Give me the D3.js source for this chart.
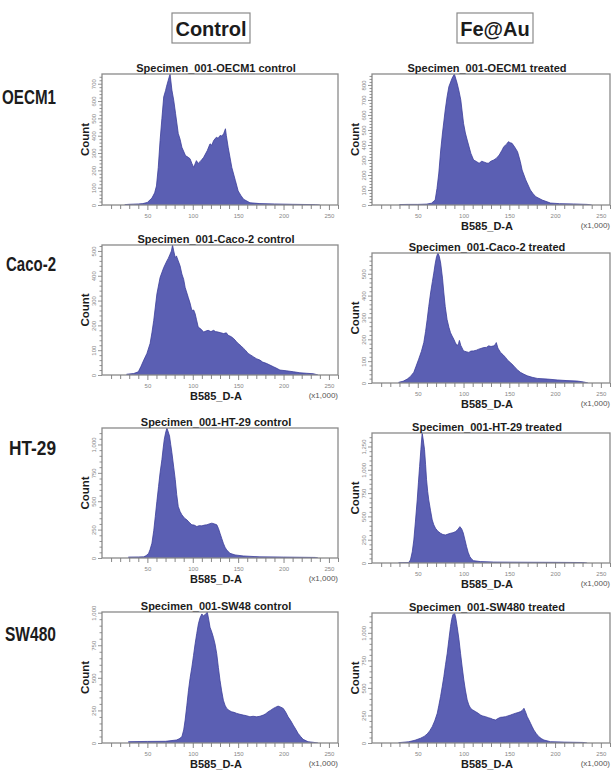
<!DOCTYPE html>
<html>
<head>
<meta charset="utf-8">
<script src="https://cdn.jsdelivr.net/npm/d3@7/dist/d3.min.js"></script>
<style>
  html, body { margin: 0; padding: 0; background: #ffffff; }
  svg { display: block; font-family: "Liberation Sans", Arial, Helvetica, sans-serif; }
</style>
</head>
<body>
<svg id="chart" width="611" height="773"></svg>
<script>
// ---------------- DATA ----------------
const columnHeaders = ["Control", "Fe@Au"];
const rowLabels = ["OECM1", "Caco-2", "HT-29", "SW480"];
const panelTitles = [
  "Specimen_001-OECM1 control", "Specimen_001-OECM1 treated",
  "Specimen_001-Caco-2 control", "Specimen_001-Caco-2 treated",
  "Specimen_001-HT-29 control", "Specimen_001-HT-29 treated",
  "Specimen_001-SW48 control", "Specimen_001-SW480 treated"
];
const xTickValues = [50, 100, 150, 200, 250];
const xDomainMax = 260;
const yMaxValues = [756, 873, 524, 595, 1145, 1395, 1005, 1180];
const yTickSteps = [100, 100, 100, 100, 250, 250, 250, 250];
const xAxisLabel = "B585_D-A";
const xAxisUnit = "(x1,000)";
const yAxisLabel = "Count";

// histogram counts: [B585_D-A (x1,000), Count]
const oecm1Control = [[25,2],[30,4],[35,5],[40,6],[45,8],[50,15],[55,40],[58,70],[60,110],[62,217],[64,372],[66,500],[68,624],[70,660],[71,682],[73,720],[75,756],[77,663],[79,605],[81,529],[84,413],[86,380],[88,333],[92,285],[95,275],[97,267],[99,240],[101,217],[104,256],[106,240],[108,250],[110,262],[112,275],[116,314],[119,353],[121,345],[123,372],[126,391],[128,385],[130,401],[132,398],[134,411],[136,440],[137,400],[139,333],[143,217],[147,140],[150,81],[153,55],[156,33],[163,13],[174,8],[190,6],[210,4],[235,2],[240,0]];
const oecm1Treated = [[30,3],[40,4],[50,4],[60,6],[65,12],[69,33],[71,110],[73,213],[75,360],[77,480],[80,633],[82,720],[84,789],[87.5,845],[90,873],[93,811],[95,760],[97,700],[100,544],[102,480],[104,433],[108,344],[111,300],[114,290],[117,278],[120,292],[122,287],[125,280],[127,278],[130,292],[133,300],[136,312],[139,333],[142,365],[144,389],[147,405],[149,422],[151,415],[153,411],[156,385],[159,355],[162,290],[164,233],[168,167],[173,100],[176,75],[179,55],[186,33],[195,13],[205,9],[220,7],[235,4],[240,0]];
const caco2Control = [[27,3],[35,6],[40,13],[43,35],[46,60],[49.5,87],[53,127],[55,170],[57,220],[60.5,327],[64,393],[68,433],[71.5,460],[73,470],[75,487],[76.5,500],[77.7,524],[79,500],[80.7,473],[82,480],[84,460],[86,440],[88,407],[90,385],[91.6,353],[95,313],[97,290],[99,260],[101,262],[102.6,247],[104,225],[106,193],[109,185],[112,173],[115,178],[117,180],[120,175],[123,180],[125,175],[128,173],[131,170],[134,167],[137,170],[139,160],[142,155],[145,147],[148,135],[150,127],[153,118],[156,107],[158,100],[161,87],[164,80],[167,73],[170,66],[174,60],[177,52],[181,47],[185,40],[189,33],[193,26],[196,20],[203,17],[211,13],[218,9],[225,7],[233,5],[238,0]];
const caco2Treated = [[29,3],[34,8],[38.5,18],[42,30],[45.7,49],[48,75],[51,109],[54,145],[56.6,185],[58.5,235],[60.3,291],[62,350],[64,412],[66,465],[67.5,503],[69,545],[70.5,578],[72,595],[73.5,580],[75,549],[77,480],[78.5,412],[80,350],[82,291],[84,255],[85.8,230],[87.5,215],[89.4,200],[91,185],[93,170],[94.5,180],[95.5,195],[97,172],[100,147],[103,143],[105.8,140],[108,146],[111,147],[114,150],[116.7,155],[119,158],[122,162],[125,163],[127.5,170],[130,167],[133,170],[134.5,175],[135.8,185],[137.5,160],[140.4,140],[143,130],[145.9,117],[148,105],[151,94],[154,82],[156.3,71],[159,60],[162,49],[166,40],[169.6,33],[175,26],[180.5,21],[191.5,18],[202.4,14],[213,11],[224,9],[231,5],[236,0]];
const ht29Control = [[29,8],[40,9],[45.8,10],[48.5,20],[51.3,40],[53,75],[55,130],[57,240],[58.7,365],[60.5,500],[62.3,630],[64,750],[66,867],[67.3,960],[68.6,1044],[70,1100],[71.5,1145],[73,1110],[74.4,1074],[75.7,1000],[77,927],[79,800],[80.7,690],[82.3,560],[84,454],[86,410],[88,380],[91,350],[93.5,336],[96,315],[99,292],[101.5,290],[104.5,277],[107,285],[110,283],[113,290],[115.5,292],[118,300],[121,307],[124,300],[126.5,292],[128.3,260],[130,218],[132,170],[133.7,130],[135.5,95],[137.4,71],[141,41],[146.6,27],[155.7,18],[174,10],[200,8],[235,5],[238,0]];
const ht29Treated = [[29,3],[40,5],[42,32],[44,120],[45.7,247],[47.5,450],[49.4,677],[50.7,860],[52,1035],[53.4,1220],[54.8,1395],[56,1320],[57.4,1215],[58.5,1060],[59.6,893],[60.8,770],[62,677],[64,560],[65.8,462],[67.5,410],[69.4,372],[72,340],[74.9,319],[77.5,305],[80.3,301],[83,310],[85.8,319],[88.5,325],[91.3,337],[93.8,360],[96,390],[98,365],[99.7,322],[101.5,250],[103.3,176],[105,115],[106.9,68],[109,40],[111,25],[118.6,15],[133,10],[170,8],[200,7],[230,5],[235,0]];
const sw480Control = [[29,10],[50,12],[70,13],[82,23],[85,32],[88,48],[90,100],[91.6,176],[93.5,290],[95.3,405],[97,495],[99,582],[100.8,670],[102.6,761],[104.4,840],[106.2,914],[108,960],[110,990],[111.8,975],[113.6,985],[115,995],[116,1005],[117.5,950],[119,888],[121,850],[122.7,811],[124.5,760],[126.4,685],[128.2,580],[130,481],[131.8,400],[133.7,328],[135.5,290],[137.4,265],[140,250],[142.9,239],[145.5,235],[148.5,227],[152,220],[155.7,214],[159,210],[163,201],[166.5,205],[170.4,201],[174,205],[177.7,214],[180.5,225],[183,239],[186,252],[188.7,265],[191.5,275],[194,283],[197,275],[199.7,265],[202.5,235],[205,201],[208,170],[210.7,137],[213.5,105],[216,74],[219,48],[221.6,28],[227,10],[233,5],[238,0]];
const sw480Treated = [[29,3],[40,11],[47,25],[53,43],[57,60],[60.3,82],[63,110],[65.8,148],[68.5,200],[71.3,270],[73,340],[74.9,421],[76.7,510],[78.5,603],[80.3,710],[82.2,815],[84,940],[85.8,1057],[87,1120],[88.3,1163],[90.2,1180],[91.6,1130],[93,1057],[95,940],[96.7,815],[98.5,690],[100.3,573],[102,480],[104,391],[105.8,345],[107.7,315],[110,300],[113,285],[116,270],[118.6,254],[121,245],[124,239],[127,230],[129.5,224],[132,215],[135,209],[137.5,222],[140.4,233],[143,235],[145.9,239],[148.5,246],[151.4,254],[154,262],[156.8,270],[159.5,276],[162.3,285],[164.5,298],[166,315],[167.8,280],[169.6,239],[171.4,210],[173.2,179],[175,148],[176.8,118],[179.5,85],[182.3,57],[185,40],[187.8,27],[195,12],[210,8],[230,5],[235,0]];

const histograms = [oecm1Control, oecm1Treated, caco2Control, caco2Treated,
                    ht29Control, ht29Treated, sw480Control, sw480Treated];
const showXLabel = [false, true, true, true, true, true, true, true];

// ---------------- LAYOUT ----------------
const colLeft = [102, 372];
const colWidth = [236, 238];
const rowBoxes = [ // [top, bottom] for [control, treated]
  [[74, 205], [74, 205]],
  [[245, 375], [253, 383]],
  [[428, 558], [433, 563]],
  [[612, 743], [613, 743]]
];
const rowLabelBaselines = [104, 271, 455, 641];
const rowLabelLengths = [54, 50, 47, 51];

const fillColor = "#5b5fb3";
const strokeColor = "#3c3f9b";
const frameColor = "#8a8a8a";
const tickColor = "#7a7a7a";
const textColor = "#1c1c1c";

const svg = d3.select("#chart");

// column headers
const headerBoxes = [[172, 13, 78, 30], [457, 13, 76, 30]];
columnHeaders.forEach((h, i) => {
  const [bx, by, bw, bh] = headerBoxes[i];
  svg.append("rect").attr("x", bx).attr("y", by).attr("width", bw).attr("height", bh)
    .attr("fill", "none").attr("stroke", frameColor).attr("stroke-width", 1.2);
  svg.append("text").attr("x", bx + bw / 2).attr("y", by + 23)
    .attr("text-anchor", "middle").attr("font-size", 20).attr("font-weight", "bold")
    .attr("fill", textColor).text(h);
});

// row labels
rowLabels.forEach((r, i) => {
  svg.append("text").attr("x", 56).attr("y", rowLabelBaselines[i])
    .attr("text-anchor", "end").attr("font-size", 20).attr("font-weight", "bold")
    .attr("textLength", rowLabelLengths[i]).attr("lengthAdjust", "spacingAndGlyphs")
    .attr("fill", textColor).text(r);
});

const defs = svg.append("defs");

histograms.forEach((data, idx) => {
  const row = Math.floor(idx / 2), col = idx % 2;
  const left = colLeft[col], width = colWidth[col];
  const [top, bottom] = rowBoxes[row][col];
  const height = bottom - top;

  const x = d3.scaleLinear().domain([0, xDomainMax]).range([left, left + width]);
  const y = d3.scaleLinear().domain([0, yMaxValues[idx]]).range([bottom, top]);

  const g = svg.append("g");

  const clipId = "clip" + idx;
  defs.append("clipPath").attr("id", clipId).append("rect")
    .attr("x", left).attr("y", top).attr("width", width).attr("height", height);

  const area = d3.area()
    .x(d => x(d[0])).y0(bottom).y1(d => y(d[1]))
    .curve(d3.curveLinear);
  const line = d3.line().x(d => x(d[0])).y(d => y(d[1])).curve(d3.curveLinear);

  g.append("path").datum(data).attr("d", area)
    .attr("fill", fillColor).attr("clip-path", `url(#${clipId})`);
  g.append("path").datum(data).attr("d", line)
    .attr("fill", "none").attr("stroke", strokeColor).attr("stroke-width", 0.8)
    .attr("clip-path", `url(#${clipId})`);

  // frame
  g.append("rect").attr("x", left).attr("y", top).attr("width", width).attr("height", height)
    .attr("fill", "none").attr("stroke", frameColor).attr("stroke-width", 1.3);

  // y axis ticks
  const step = yTickSteps[idx];
  const majorY = d3.range(0, yMaxValues[idx] + 0.001, step);
  const minorY = d3.range(0, yMaxValues[idx] + 0.001, step / 5).filter(v => majorY.indexOf(v) < 0);
  const yMinor = g.append("g").attr("transform", `translate(${left},0)`)
    .call(d3.axisLeft(y).tickValues(minorY).tickSize(2.5).tickFormat(""));
  const yMajor = g.append("g").attr("transform", `translate(${left},0)`)
    .call(d3.axisLeft(y).tickValues(majorY).tickSize(4).tickFormat(d3.format(",")));
  [yMinor, yMajor].forEach(a => {
    a.select(".domain").remove();
    a.selectAll("line").attr("stroke", tickColor).attr("stroke-width", 0.8);
  });
  yMajor.selectAll("text")
    .attr("transform", "rotate(-90)")
    .attr("x", 0).attr("y", -6).attr("dy", 0)
    .attr("text-anchor", "middle")
    .attr("font-size", 6).attr("fill", "#888")
    .style("font-family", "'Liberation Sans', Arial, sans-serif");

  // x axis ticks
  const minorX = d3.range(10, xDomainMax + 1, 10).filter(v => xTickValues.indexOf(v) < 0);
  const xMinor = g.append("g").attr("transform", `translate(0,${bottom})`)
    .call(d3.axisBottom(x).tickValues(minorX).tickSize(4).tickFormat(""));
  const xMajor = g.append("g").attr("transform", `translate(0,${bottom})`)
    .call(d3.axisBottom(x).tickValues(xTickValues).tickSize(5).tickPadding(4));
  [xMinor, xMajor].forEach(a => {
    a.select(".domain").remove();
    a.selectAll("line").attr("stroke", tickColor).attr("stroke-width", 0.9);
  });
  xMajor.selectAll("text").attr("font-size", 6).attr("fill", "#888")
    .style("font-family", "'Liberation Sans', Arial, sans-serif");

  // title
  g.append("text").attr("x", left + width / 2 - 4).attr("y", top - 2)
    .attr("text-anchor", "middle").attr("font-size", 11).attr("font-weight", "bold")
    .attr("fill", textColor).text(panelTitles[idx]);

  // y label
  g.append("text")
    .attr("transform", `translate(${left - 13},${(top + bottom) / 2}) rotate(-90)`)
    .attr("text-anchor", "middle").attr("font-size", 11.5).attr("font-weight", "bold")
    .attr("fill", textColor).text(yAxisLabel);

  // x label
  if (showXLabel[idx]) {
    g.append("text").attr("x", left + width / 2 - 4).attr("y", bottom + 25)
      .attr("text-anchor", "middle").attr("font-size", 11).attr("font-weight", "bold")
      .attr("fill", textColor).text(xAxisLabel);
    g.append("text").attr("x", left + width).attr("y", bottom + 23)
      .attr("text-anchor", "end").attr("font-size", 8)
      .attr("fill", "#555").text(xAxisUnit);
  }
});
</script>
</body>
</html>
